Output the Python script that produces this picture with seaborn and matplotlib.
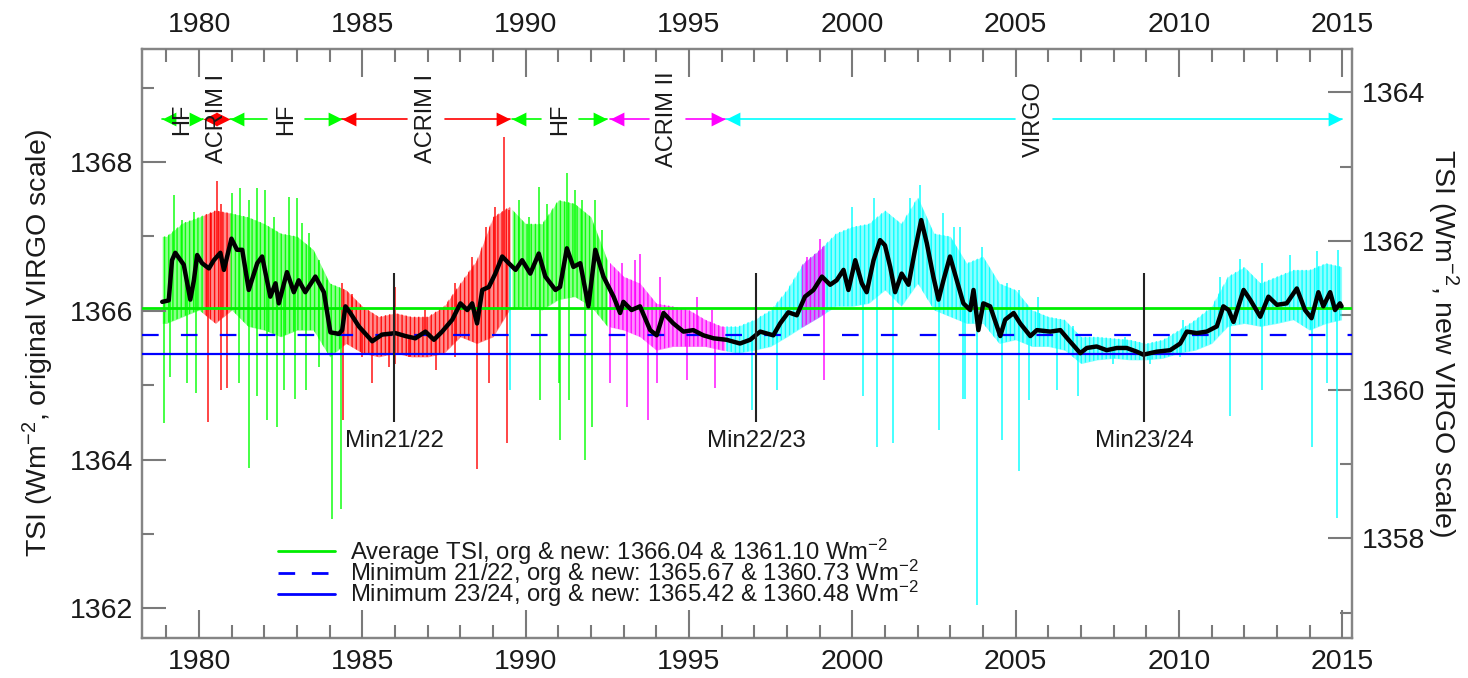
import numpy as np
import pandas as pd
import matplotlib
matplotlib.use("Agg")
import matplotlib.pyplot as plt
from matplotlib.path import Path
from matplotlib.lines import Line2D
from matplotlib.ticker import MultipleLocator
import seaborn as sns

# ---------------------------------------------------------------------------
# 81-day running mean of the composite (year, W m^-2 on the original VIRGO scale)
smooth_year = [
    1978.87, 1979.07, 1979.17, 1979.27, 1979.43, 1979.53, 1979.73, 1979.84, 1979.94, 1980.09,
    1980.30, 1980.45, 1980.65, 1980.76, 1980.99, 1981.16, 1981.32, 1981.52, 1981.78, 1981.93,
    1982.18, 1982.34, 1982.44, 1982.69, 1982.90, 1983.05, 1983.25, 1983.56, 1983.82, 1984.02,
    1984.28, 1984.38, 1984.48, 1984.63, 1984.89, 1985.30, 1985.60, 1986.01, 1986.32, 1986.62,
    1986.93, 1987.19, 1987.44, 1987.75, 1988.00, 1988.21, 1988.36, 1988.51, 1988.67, 1988.87,
    1989.07, 1989.28, 1989.48, 1989.69, 1989.89, 1990.14, 1990.40, 1990.60, 1990.91, 1991.05,
    1991.26, 1991.46, 1991.67, 1991.92, 1992.13, 1992.38, 1992.69, 1992.89, 1992.99, 1993.24,
    1993.50, 1993.81, 1994.01, 1994.22, 1994.52, 1994.83, 1995.13, 1995.44, 1995.75, 1996.15,
    1996.56, 1996.87, 1997.18, 1997.58, 1997.79, 1998.04, 1998.30, 1998.55, 1998.81, 1999.07,
    1999.32, 1999.52, 1999.73, 1999.88, 2000.09, 2000.29, 2000.44, 2000.65, 2000.85, 2001.00,
    2001.16, 2001.31, 2001.51, 2001.72, 2001.92, 2002.11, 2002.28, 2002.48, 2002.64, 2002.79,
    2002.99, 2003.20, 2003.40, 2003.61, 2003.71, 2003.86, 2004.01, 2004.22, 2004.53, 2004.68,
    2004.94, 2005.14, 2005.45, 2005.65, 2006.06, 2006.37, 2006.62, 2006.98, 2007.18, 2007.48,
    2007.79, 2008.10, 2008.40, 2008.71, 2008.91, 2009.32, 2009.73, 2010.04, 2010.24, 2010.55,
    2010.85, 2011.16, 2011.36, 2011.52, 2011.67, 2011.98, 2012.18, 2012.49, 2012.74, 2013.00,
    2013.30, 2013.61, 2013.86, 2014.06, 2014.27, 2014.42, 2014.63, 2014.78, 2014.93, 2014.98,
]
smooth_tsi = [
    1366.12, 1366.14, 1366.68, 1366.78, 1366.68, 1366.62, 1366.15, 1366.41, 1366.75, 1366.64,
    1366.57, 1366.68, 1366.78, 1366.55, 1366.97, 1366.82, 1366.82, 1366.28, 1366.64, 1366.73,
    1366.19, 1366.37, 1366.10, 1366.52, 1366.25, 1366.41, 1366.25, 1366.46, 1366.25, 1365.71,
    1365.69, 1365.74, 1366.06, 1365.97, 1365.79, 1365.59, 1365.68, 1365.70, 1365.66, 1365.63,
    1365.72, 1365.61, 1365.72, 1365.88, 1366.10, 1366.01, 1366.10, 1365.83, 1366.28, 1366.32,
    1366.50, 1366.73, 1366.64, 1366.55, 1366.68, 1366.50, 1366.77, 1366.46, 1366.28, 1366.32,
    1366.84, 1366.59, 1366.64, 1366.06, 1366.82, 1366.46, 1366.19, 1365.97, 1366.12, 1366.01,
    1366.06, 1365.74, 1365.67, 1365.97, 1365.83, 1365.72, 1365.74, 1365.67, 1365.63, 1365.61,
    1365.56, 1365.61, 1365.72, 1365.67, 1365.83, 1365.98, 1365.94, 1366.19, 1366.28, 1366.46,
    1366.35, 1366.41, 1366.55, 1366.28, 1366.68, 1366.37, 1366.25, 1366.68, 1366.95, 1366.88,
    1366.59, 1366.25, 1366.50, 1366.35, 1366.82, 1367.22, 1366.91, 1366.46, 1366.15, 1366.41,
    1366.73, 1366.41, 1366.10, 1366.01, 1366.28, 1365.74, 1366.10, 1366.06, 1365.66, 1365.88,
    1365.97, 1365.83, 1365.66, 1365.74, 1365.72, 1365.74, 1365.61, 1365.43, 1365.50, 1365.52,
    1365.47, 1365.50, 1365.50, 1365.45, 1365.41, 1365.45, 1365.47, 1365.56, 1365.72, 1365.70,
    1365.72, 1365.79, 1366.06, 1366.01, 1365.85, 1366.28, 1366.15, 1365.92, 1366.19, 1366.08,
    1366.10, 1366.30, 1366.01, 1365.90, 1366.25, 1366.06, 1366.25, 1366.01, 1366.10, 1366.06,
]

# Dense part of the daily values: upper and lower edge every half year
band_year = [1979.0 + 0.5 * i for i in range(73)]
band_hi = [
    1367.00, 1367.18, 1367.26, 1367.35, 1367.31, 1367.26, 1367.17, 1367.04, 1367.00, 1366.82,
    1366.37, 1366.28, 1366.06, 1365.92, 1365.97, 1365.92, 1365.92, 1366.06, 1366.37, 1366.68,
    1367.26, 1367.40, 1367.17, 1367.17, 1367.49, 1367.44, 1367.26, 1366.68, 1366.46, 1366.37,
    1366.10, 1366.06, 1366.01, 1365.88, 1365.79, 1365.79, 1365.88, 1366.01, 1366.28, 1366.64,
    1366.82, 1367.04, 1367.13, 1367.17, 1367.35, 1367.17, 1367.53, 1367.04, 1367.00, 1366.64,
    1366.73, 1366.37, 1366.28, 1366.01, 1365.92, 1365.88, 1365.65, 1365.65, 1365.63, 1365.61,
    1365.56, 1365.61, 1365.74, 1365.88, 1366.06, 1366.46, 1366.59, 1366.37, 1366.46, 1366.55,
    1366.55, 1366.64, 1366.59,
]
band_lo = [
    1365.83, 1365.92, 1366.01, 1365.83, 1366.01, 1365.79, 1365.74, 1365.65, 1365.74, 1365.74,
    1365.38, 1365.56, 1365.43, 1365.38, 1365.43, 1365.38, 1365.38, 1365.43, 1365.65, 1365.56,
    1365.65, 1366.01, 1366.06, 1366.01, 1366.15, 1366.19, 1366.06, 1365.79, 1365.74, 1365.65,
    1365.47, 1365.52, 1365.52, 1365.52, 1365.47, 1365.43, 1365.47, 1365.52, 1365.65, 1365.79,
    1365.92, 1366.06, 1366.06, 1366.10, 1366.28, 1366.06, 1366.37, 1366.01, 1365.92, 1365.83,
    1365.83, 1365.56, 1365.61, 1365.52, 1365.52, 1365.47, 1365.29, 1365.34, 1365.36, 1365.34,
    1365.34, 1365.36, 1365.43, 1365.47, 1365.56, 1365.79, 1365.83, 1365.79, 1365.83, 1365.88,
    1365.74, 1365.83, 1365.88,
]

# Strongest single-day excursions above the running mean
peak_year = [
    1979.23, 1979.48, 1979.84, 1980.35, 1980.55, 1980.68, 1981.01, 1981.26, 1981.52, 1981.78,
    1982.03, 1982.29, 1982.75, 1983.00, 1983.15, 1983.36, 1983.66, 1983.92, 1984.38, 1984.68,
    1986.01, 1986.93, 1987.85, 1988.36, 1988.77, 1989.07, 1989.33, 1989.48, 1989.79, 1990.09,
    1990.40, 1990.66, 1991.26, 1991.51, 1991.72, 1992.13, 1992.33, 1992.94, 1993.35, 1993.51,
    1994.12, 1995.24, 1995.70, 1998.61, 1999.02, 1999.99, 2000.65, 2001.77, 2002.08, 2002.79,
    2003.10, 2003.30, 2003.97, 2004.73, 2005.09, 2005.70, 2006.77, 2008.35, 2010.14, 2011.26,
    2011.87, 2012.54, 2013.41, 2014.22, 2014.88,
]
peak_tsi = [
    1367.56, 1367.22, 1367.33, 1367.31, 1367.74, 1367.44, 1367.58, 1367.65, 1367.49, 1367.65,
    1367.62, 1367.26, 1367.53, 1367.51, 1367.18, 1367.04, 1366.68, 1366.41, 1366.37, 1366.23,
    1366.32, 1366.01, 1366.37, 1366.73, 1367.13, 1367.40, 1368.34, 1367.35, 1367.49, 1367.26,
    1367.67, 1367.44, 1367.85, 1367.62, 1367.49, 1367.49, 1367.09, 1366.64, 1366.68, 1366.77,
    1366.46, 1366.19, 1366.01, 1366.73, 1366.96, 1367.40, 1367.51, 1367.51, 1367.69, 1367.31,
    1367.13, 1367.13, 1366.86, 1366.37, 1366.28, 1366.19, 1365.79, 1365.65, 1365.88, 1366.46,
    1366.70, 1366.64, 1366.75, 1366.80, 1366.82,
]

# Strongest single-day dips below the running mean (sunspot passages)
dip_year = [
    1978.92, 1979.12, 1979.63, 1979.89, 1980.28, 1980.68, 1980.86, 1981.22, 1981.52, 1981.78,
    1982.08, 1982.39, 1982.59, 1982.95, 1983.26, 1983.66, 1984.07, 1984.35, 1984.40, 1984.99,
    1985.30, 1985.81, 1986.01, 1986.42, 1987.24, 1987.85, 1988.51, 1988.87, 1989.43, 1989.53,
    1990.44, 1991.01, 1991.05, 1991.31, 1991.82, 1992.02, 1992.58, 1993.09, 1993.75, 1994.01,
    1994.93, 1995.80, 1996.92, 1997.69, 1999.12, 2000.34, 2000.75, 2001.26, 2002.64, 2003.40,
    2003.46, 2003.82, 2004.58, 2005.09, 2005.40, 2006.26, 2006.92, 2007.99, 2009.12, 2010.04,
    2011.57, 2012.54, 2014.07, 2014.53, 2014.84,
]
dip_tsi = [
    1364.49, 1365.11, 1365.03, 1364.89, 1364.51, 1364.94, 1364.96, 1365.03, 1363.89, 1364.85,
    1364.53, 1364.44, 1364.94, 1364.82, 1364.94, 1365.25, 1363.20, 1363.33, 1364.53, 1365.38,
    1365.03, 1365.25, 1365.29, 1365.38, 1365.20, 1365.38, 1363.87, 1365.03, 1364.22, 1364.94,
    1364.80, 1365.03, 1364.26, 1364.80, 1363.99, 1364.44, 1365.03, 1364.71, 1364.53, 1365.03,
    1365.07, 1364.96, 1364.67, 1364.94, 1365.07, 1364.85, 1364.17, 1364.22, 1364.40, 1364.82,
    1364.82, 1362.05, 1364.26, 1363.84, 1364.80, 1364.94, 1364.85, 1365.29, 1365.29, 1365.38,
    1364.58, 1364.94, 1364.17, 1365.03, 1363.21,
]

# Radiometer used for each part of the composite
instrument_name = ["HF", "ACRIM I", "HF", "ACRIM I", "HF", "ACRIM II", "VIRGO"]
instrument_start = [1978.87, 1980.12, 1980.95, 1984.38, 1989.58, 1992.58, 1996.13]
instrument_end = [1980.12, 1980.95, 1984.36, 1989.52, 1992.50, 1996.10, 2015.00]
instrument_color = ["#00ff00", "#ff0000", "#00ff00", "#ff0000", "#00ff00", "#ff00ff", "#00ffff"]
# ACRIM II fills the SOHO interruption
soho_gap = (1998.45, 1999.15)
soho_gap_color = "#ff00ff"

# Reference levels: original and new VIRGO scale
avg_org, avg_new = 1366.04, 1361.10
min2122_org, min2122_new = 1365.67, 1360.73
min2324_org, min2324_new = 1365.42, 1360.48

minima_year = [1985.98, 1997.05, 2008.94]
minima_label = ["Min21/22", "Min22/23", "Min23/24"]

# ---------------------------------------------------------------------------
TXT = "#1a1a1a"
SPINE = "#858585"
TICK = "#7a7a7a"

sns.set_theme(style="ticks")
plt.rcParams.update({
    "font.family": ["Liberation Sans", "DejaVu Sans"],
    "mathtext.fontset": "custom",
    "mathtext.rm": "Liberation Sans",
    "mathtext.it": "Liberation Sans:italic",
    "mathtext.bf": "Liberation Sans:bold",
    "axes.axisbelow": False,
    "hatch.linewidth": 1.0,
})

fig = plt.figure(figsize=(14.68, 6.78), dpi=100)
ax = fig.add_axes([0.0967, 0.059, 0.8243, 0.8687])
ax2 = ax.twinx()
ax.set_zorder(2)
ax2.set_zorder(1)
ax.patch.set_visible(False)

ymin, ymax = 1361.60, 1369.52
xmin, xmax = 1978.25, 2015.30
ax.set_xlim(xmin, xmax)
ax.set_ylim(ymin, ymax)
shift = avg_org - avg_new
ax2.set_ylim(ymin - shift, ymax - shift)


def color_at(year):
    if soho_gap[0] <= year <= soho_gap[1]:
        return soho_gap_color
    for s, e, c in zip(instrument_start, instrument_end, instrument_color):
        if s <= year <= e:
            return c
    return instrument_color[-1]


# daily values: dense core per instrument interval, striped like daily strokes
by = np.asarray(band_year)
bh = np.asarray(band_hi)
bl = np.asarray(band_lo)
data_spans = list(zip(instrument_start, instrument_end, instrument_color))
data_spans[-1] = (data_spans[-1][0], 2014.98, data_spans[-1][2])
data_spans.append((soho_gap[0], soho_gap[1], soho_gap_color))
for s, e, c in data_spans:
    inside = (by > s) & (by < e)
    xs = np.concatenate([[s], by[inside], [e]])
    hi = np.concatenate([[np.interp(s, by, bh)], bh[inside], [np.interp(e, by, bh)]])
    lo = np.concatenate([[np.interp(s, by, bl)], bl[inside], [np.interp(e, by, bl)]])
    ax.fill_between(xs, lo, hi, color=c, alpha=0.45, lw=0, zorder=2)
    ax.fill_between(xs, lo, hi, facecolor="none", edgecolor=c, hatch="||||",
                    lw=0, alpha=0.9, zorder=2)

# single-day excursions
for yrs, vals in ((peak_year, peak_tsi), (dip_year, dip_tsi)):
    base = np.interp(yrs, smooth_year, smooth_tsi)
    cols = [color_at(y) for y in yrs]
    ax.vlines(yrs, base, vals, colors=cols, lw=1.2, alpha=0.85, zorder=2)

# reference levels
ax.axhline(avg_org, color="#00ee00", lw=2.0, zorder=3)
ax.axhline(min2122_org, color="#0000ff", lw=1.6, ls=(0, (7.5, 10)), zorder=3)
ax.axhline(min2324_org, color="#0000ff", lw=1.6, zorder=3)

# running mean
df = pd.DataFrame({"year": smooth_year, "tsi": smooth_tsi})
sns.lineplot(data=df, x="year", y="tsi", color="black", lw=3.2, sort=False,
             ax=ax, zorder=5, legend=False)

# solar minima
for yr, lab in zip(minima_year, minima_label):
    ax.vlines(yr, 1364.50, 1366.51, color="#222222", lw=1.5, zorder=6)
    ax.text(yr, 1364.40, lab, ha="center", va="top", fontsize=17.3, color=TXT, zorder=6)

# instrument bars along the top
arrow_y = 1368.58
left_tri = Path([(0, 0), (2, 1), (2, -1), (0, 0)])
right_tri = Path([(0, 0), (-2, 1), (-2, -1), (0, 0)])
gap = 0.58
for name, s, e, c in zip(instrument_name, instrument_start, instrument_end, instrument_color):
    mid = 0.5 * (s + e)
    if e - s > 2 * gap:
        ax.plot([s, mid - gap], [arrow_y, arrow_y], color=c, lw=1.2, zorder=3)
        ax.plot([mid + gap, e], [arrow_y, arrow_y], color=c, lw=1.2, zorder=3)
    ax.text(mid, arrow_y, name, rotation=90, ha="center", va="center",
            fontsize=17, color=TXT, zorder=6)
    ax.plot([s], [arrow_y], marker=left_tri, ms=20, color=c, mew=0, zorder=5)
for s, e, c in zip(instrument_start, instrument_end, instrument_color):
    ax.plot([e], [arrow_y], marker=right_tri, ms=20, color=c, mew=0, zorder=5)

# axes styling: grey frame
for a in (ax, ax2):
    for sp in a.spines.values():
        sp.set_color(SPINE)
        sp.set_linewidth(1.6)
ax.xaxis.set_major_locator(MultipleLocator(5))
ax.xaxis.set_minor_locator(MultipleLocator(1))
ax.yaxis.set_major_locator(MultipleLocator(2))
ax.yaxis.set_minor_locator(MultipleLocator(1))
ax2.yaxis.set_major_locator(MultipleLocator(2))
ax2.yaxis.set_minor_locator(MultipleLocator(1))

# labels from the axis machinery; the inward tick marks are drawn as segments below
ax.tick_params(axis="x", which="both", direction="in", top=True, bottom=True,
               labeltop=True, labelbottom=True, length=0, labelsize=20.5,
               labelcolor=TXT, pad=8)
ax.tick_params(axis="y", which="both", direction="in", left=True, right=False,
               labelleft=True, labelright=False, length=0, labelsize=20.5,
               labelcolor=TXT, pad=6)
ax2.tick_params(axis="y", which="both", direction="in", right=True, left=False,
                labelright=True, labelleft=False, length=0, labelsize=20.5,
                labelcolor=TXT, pad=7)

# inward tick marks, lengths as fractions of the axes box
bbox = ax.get_position()
ax_w_in = bbox.width * fig.get_figwidth()
ax_h_in = bbox.height * fig.get_figheight()


def frac_h(points):
    return points / 72.0 / ax_h_in


def frac_w(points):
    return points / 72.0 / ax_w_in


def in_range(locs, lo, hi):
    locs = np.asarray(locs)
    return locs[(locs >= lo - 1e-9) & (locs <= hi + 1e-9)]


xmaj = in_range(ax.xaxis.get_majorticklocs(), xmin, xmax)
xmin_t = in_range(ax.xaxis.get_minorticklocs(), xmin, xmax)
ymaj = in_range(ax.yaxis.get_majorticklocs(), ymin, ymax)
ymin_t = in_range(ax.yaxis.get_minorticklocs(), ymin, ymax)
y2maj = in_range(ax2.yaxis.get_majorticklocs(), ymin - shift, ymax - shift)
y2min = in_range(ax2.yaxis.get_minorticklocs(), ymin - shift, ymax - shift)

tick_kw = dict(colors=TICK, lw=1.5, clip_on=False, zorder=7)
xt = ax.get_xaxis_transform()
yt = ax.get_yaxis_transform()
y2t = ax2.get_yaxis_transform()
for locs, L in ((xmaj, 20), (xmin_t, 9.5)):
    ax.vlines(locs, 0, frac_h(L), transform=xt, **tick_kw)
    ax.vlines(locs, 1 - frac_h(L), 1, transform=xt, **tick_kw)
for locs, L in ((ymaj, 17), (ymin_t, 8.5)):
    ax.hlines(locs, 0, frac_w(L), transform=yt, **tick_kw)
for locs, L in ((y2maj, 17), (y2min, 8.5)):
    ax2.hlines(locs, 1 - frac_w(L), 1, transform=y2t, **tick_kw)

ax.set_xlabel("")
ax.set_ylabel(r"TSI (Wm$^{-2}$, original VIRGO scale)", fontsize=20.5, color=TXT, labelpad=10)
ax2.set_ylabel(r"TSI (Wm$^{-2}$, new VIRGO scale)", fontsize=20.5, color=TXT,
               rotation=-90, va="bottom", labelpad=0)

handles = [
    Line2D([], [], color="#00ee00", lw=2.0),
    Line2D([], [], color="#0000ff", lw=2.0, ls=(0, (6, 6))),
    Line2D([], [], color="#0000ff", lw=2.0),
]
labels = [
    f"Average TSI, org & new: {avg_org:.2f} & {avg_new:.2f} Wm$^{{-2}}$",
    f"Minimum 21/22, org & new: {min2122_org:.2f} & {min2122_new:.2f} Wm$^{{-2}}$",
    f"Minimum 23/24, org & new: {min2324_org:.2f} & {min2324_new:.2f} Wm$^{{-2}}$",
]
leg = ax.legend(handles, labels, loc="upper left", bbox_to_anchor=(0.1124, 0.172),
                frameon=False, fontsize=17.2, handlelength=2.4, handletextpad=0.6,
                labelspacing=-0.38, borderpad=0, borderaxespad=0)
for t in leg.get_texts():
    t.set_color(TXT)

fig.savefig("out.png", dpi=100)
